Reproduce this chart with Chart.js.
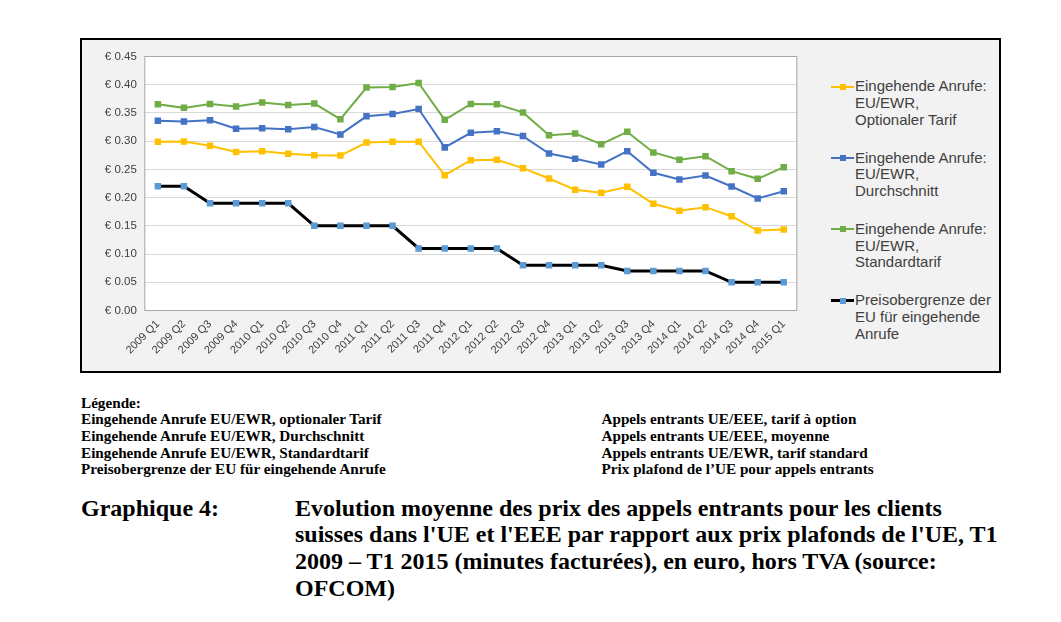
<!DOCTYPE html>
<html>
<head>
<meta charset="utf-8">
<script src="https://cdn.jsdelivr.net/npm/chart.js@4.4.0/dist/chart.umd.min.js"></script>
<style>
  html, body { margin:0; padding:0; background:#fff; }
  body { width:1061px; height:622px; position:relative; overflow:hidden; }
  #box { position:absolute; left:80px; top:38px; width:921px; height:335px; box-sizing:border-box;
         border:2.5px solid #000; background:#f2f2f2; }
  #cwrap { position:absolute; left:0; top:0; width:730px; height:330px; }
  .leg { position:absolute; left:855px; font-family:"Liberation Sans", Arial, sans-serif; font-size:15px;
         line-height:16.7px; color:#404040; white-space:nowrap; }
  .sym { position:absolute; left:831px; width:23px; }
  .sym .ln { position:absolute; left:0; width:23px; }
  .sym .sq { position:absolute; left:9px; width:6px; height:6px; }
  .serif { position:absolute; font-family:"Liberation Serif", "Times New Roman", serif; font-weight:bold; color:#000; white-space:nowrap; }
  .small { font-size:15.2px; line-height:16.7px; }
  .big { font-size:24px; line-height:26.8px; }
</style>
</head>
<body>
<div id="box"><div id="cwrap"><canvas id="c"></canvas></div></div>
<div id="legend"></div>

<div class="serif small" style="left:81px; top:394.5px;">Légende:<br>Eingehende Anrufe EU/EWR, optionaler Tarif<br>Eingehende Anrufe EU/EWR, Durchschnitt<br>Eingehende Anrufe EU/EWR, Standardtarif<br>Preisobergrenze der EU für eingehende Anrufe</div>
<div class="serif small" style="left:601.5px; top:411.2px;">Appels entrants UE/EEE, tarif à option<br>Appels entrants UE/EEE, moyenne<br>Appels entrants UE/EWR, tarif standard<br>Prix plafond de l’UE pour appels entrants</div>
<div class="serif big" style="left:81px; top:494.5px;">Graphique 4:</div>
<div class="serif big" style="left:295px; top:494.5px;">Evolution moyenne des prix des appels entrants pour les clients<br>suisses dans l'UE et l'EEE par rapport aux prix plafonds de l'UE, T1<br>2009 – T1 2015 (minutes facturées), en euro, hors TVA (source:<br>OFCOM)</div>

<script>
const quarters = ["2009 Q1","2009 Q2","2009 Q3","2009 Q4","2010 Q1","2010 Q2","2010 Q3","2010 Q4",
  "2011 Q1","2011 Q2","2011 Q3","2011 Q4","2012 Q1","2012 Q2","2012 Q3","2012 Q4",
  "2013 Q1","2013 Q2","2013 Q3","2013 Q4","2014 Q1","2014 Q2","2014 Q3","2014 Q4","2015 Q1"];

const optionalTariff = [0.299,0.2995,0.292,0.281,0.282,0.2775,0.275,0.2745,0.2976,0.299,0.299,0.2398,
  0.2663,0.2669,0.2522,0.2339,0.2138,0.2085,0.2191,0.189,0.1766,0.1831,0.1671,0.1417,0.1435];
const averagePrice = [0.336,0.335,0.337,0.322,0.323,0.321,0.325,0.312,0.344,0.348,0.357,0.289,
  0.3148,0.3177,0.309,0.278,0.2687,0.2587,0.2823,0.2439,0.232,0.239,0.2197,0.1984,0.2114];
const standardTariff = [0.3655,0.359,0.366,0.3615,0.3685,0.364,0.3667,0.339,0.395,0.396,0.403,0.3378,
  0.366,0.3655,0.351,0.3106,0.3136,0.2947,0.3165,0.280,0.267,0.2734,0.2469,0.2333,0.254];
const euCap = [0.22,0.22,0.19,0.19,0.19,0.19,0.15,0.15,0.15,0.15,0.11,0.11,
  0.11,0.11,0.08,0.08,0.08,0.08,0.07,0.07,0.07,0.07,0.05,0.05,0.05];

const legendLines = [
  ["Eingehende Anrufe:","EU/EWR,","Optionaler Tarif"],
  ["Eingehende Anrufe:","EU/EWR,","Durchschnitt"],
  ["Eingehende Anrufe:","EU/EWR,","Standardtarif"],
  ["Preisobergrenze der","EU für eingehende","Anrufe"]
];
const lineColors = ["#FFC000","#4472C4","#70AD47","#000000"];
const markerColors = ["#FFC000","#4472C4","#70AD47","#5B9BD5"];
const lineWidths = [2,2,2,3];
const seriesData = [optionalTariff, averagePrice, standardTariff, euCap];

// HTML legend
const legEl = document.getElementById('legend');
const itemTops = [78.4, 149.7, 221.0, 292.4];
legendLines.forEach((lines, i) => {
  const t = document.createElement('div');
  t.className = 'leg';
  t.style.top = itemTops[i] + 'px';
  t.innerHTML = lines.join('<br>');
  legEl.appendChild(t);
  const s = document.createElement('div');
  s.className = 'sym';
  const cy = itemTops[i] + 8.35;
  s.style.top = cy + 'px';
  s.innerHTML = '<div class="ln" style="top:' + (-lineWidths[i]/2) + 'px;height:' + lineWidths[i] + 'px;background:' + lineColors[i] + '"></div>' +
                '<div class="sq" style="top:-3px;background:' + markerColors[i] + '"></div>';
  legEl.appendChild(s);
});

const plotBg = {
  id: 'plotBg',
  beforeDraw(chart) {
    const a = chart.chartArea, ctx = chart.ctx;
    ctx.save();
    ctx.fillStyle = '#ffffff';
    ctx.fillRect(a.left, a.top, a.right - a.left, a.bottom - a.top);
    ctx.restore();
  },
  beforeDatasetsDraw(chart) {
    const a = chart.chartArea, ctx = chart.ctx;
    ctx.save();
    ctx.strokeStyle = '#a6a6a6';
    ctx.lineWidth = 1;
    ctx.strokeRect(a.left, a.top, a.right - a.left, a.bottom - a.top);
    ctx.restore();
  }
};

const datasets = seriesData.map((d, i) => ({
  label: legendLines[i].join(' '),
  data: d,
  borderColor: lineColors[i],
  backgroundColor: markerColors[i],
  pointBackgroundColor: markerColors[i],
  pointBorderColor: markerColors[i],
  pointBorderWidth: 0,
  borderWidth: lineWidths[i],
  pointStyle: 'rect',
  pointRadius: 4.6,
  tension: 0,
  fill: false
}));

new Chart(document.getElementById('c'), {
  type: 'line',
  data: { labels: quarters, datasets: datasets },
  plugins: [plotBg],
  options: {
    responsive: true,
    maintainAspectRatio: false,
    animation: false,
    layout: { padding: { top: 16.5, right: 15.2, left: 0, bottom: 0 } },
    plugins: { legend: { display: false }, tooltip: { enabled: false } },
    scales: {
      x: {
        offset: true,
        grid: { display: false, drawTicks: false },
        border: { display: false },
        ticks: {
          autoSkip: false, maxRotation: 45, minRotation: 45, padding: 7,
          color: '#404040', font: { family: '"Liberation Sans", Arial, sans-serif', size: 11 }
        },
        afterFit(scale) { scale.height = 59.5; }
      },
      y: {
        min: 0, max: 0.45,
        grid: { color: '#d9d9d9', lineWidth: 1, drawTicks: false },
        border: { display: false },
        ticks: {
          stepSize: 0.05, padding: 8,
          color: '#404040', font: { family: '"Liberation Sans", Arial, sans-serif', size: 11.5 },
          callback: v => '€ ' + v.toFixed(2)
        },
        afterFit(scale) { scale.width = 62.8; }
      }
    }
  }
});
</script>
</body>
</html>
